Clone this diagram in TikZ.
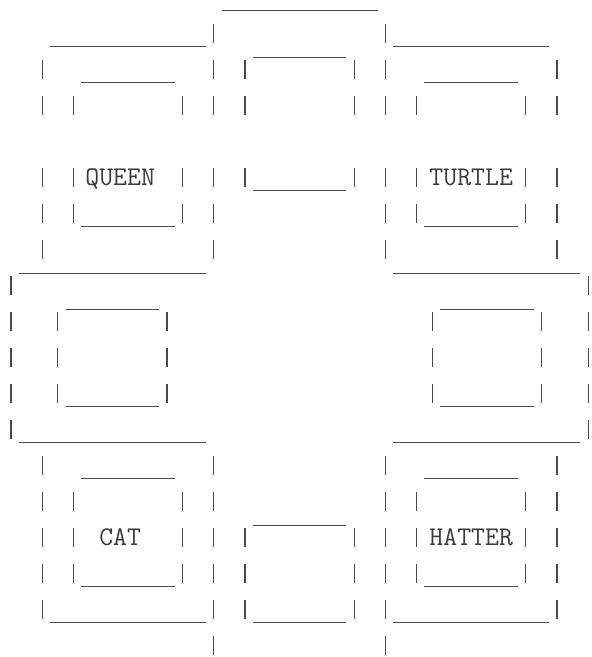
\documentclass[tikz,border=0pt]{standalone}
\definecolor{inkline}{HTML}{4A4A4A}
\definecolor{inktext}{HTML}{3A3A3A}
\tikzset{
  ln/.style={draw=inkline, line width=1.3pt, line cap=butt},
  lbl/.style={text=inktext, inner sep=0pt, anchor=base,
              font=\ttfamily\fontsize{27}{27}\selectfont}
}
% column k: left edge 3.2+15.6k, centre 11+15.6k ; row n: bar top 36n-48
\newcommand\asciiV[2]{\draw[ln] ({11+15.6*#1},{36*#2-48}) -- ++(0,19);}
\newcommand\asciiU[3]{\draw[ln] ({3.2+15.6*#2},{36*#1-25.6}) -- ({3.2+15.6*(#3+1)},{36*#1-25.6});}
\newcommand\asciiO[3]{\draw[ln] ({3.2+15.6*#2},{36*#1-50.5}) -- ({3.2+15.6*(#3+1)},{36*#1-50.5});}
\begin{document}
\begin{tikzpicture}[x=1pt,y=-1pt]
\useasboundingbox (0,0) rectangle (592,657);
% row 1
\asciiU{1}{14}{23}
% row 2
\asciiU{2}{3}{12} \asciiV{13}{2} \asciiV{24}{2} \asciiU{2}{25}{34}
% row 3
\foreach \c in {2,13,15,22,24,35} {\asciiV{\c}{3}}
\asciiU{3}{5}{10} \asciiU{3}{27}{32} \asciiO{3}{16}{21}
% row 4
\foreach \c in {2,4,11,13,15,22,24,26,33,35} {\asciiV{\c}{4}}
% row 6
\foreach \c in {2,4,11,13,15,22,24,26,33,35} {\asciiV{\c}{6}}
\asciiU{6}{16}{21}
\node[lbl] (queen) at ({3.2+15.6*7.5},{36*6-31}) {QUEEN};
\node[lbl] (turtle) at ({3.2+15.6*30},{36*6-31}) {TURTLE};
% row 7
\foreach \c in {2,4,11,13,24,26,33,35} {\asciiV{\c}{7}}
\asciiU{7}{5}{10} \asciiU{7}{27}{32}
% row 8
\foreach \c in {2,13,24,35} {\asciiV{\c}{8}}
% row 9
\foreach \c in {0,37} {\asciiV{\c}{9}}
\asciiO{9}{1}{12} \asciiO{9}{25}{36}
% rows 10-12
\foreach \r in {10,11,12} {\foreach \c in {0,3,10,27,34,37} {\asciiV{\c}{\r}}}
\asciiO{10}{4}{9} \asciiO{10}{28}{33}
\asciiU{12}{4}{9} \asciiU{12}{28}{33}
% row 13
\foreach \c in {0,37} {\asciiV{\c}{13}}
\asciiU{13}{1}{12} \asciiU{13}{25}{36}
% row 14
\foreach \c in {2,13,24,35} {\asciiV{\c}{14}}
\asciiU{14}{5}{10} \asciiU{14}{27}{32}
% row 15
\foreach \c in {2,4,11,13,24,26,33,35} {\asciiV{\c}{15}}
% row 16
\foreach \c in {2,4,11,13,15,22,24,26,33,35} {\asciiV{\c}{16}}
\asciiO{16}{16}{21}
\node[lbl] (cat) at ({3.2+15.6*7.5},{36*16-31}) {CAT};
\node[lbl] (hatter) at ({3.2+15.6*30},{36*16-31}) {HATTER};
% row 17
\foreach \c in {2,4,11,13,15,22,24,26,33,35} {\asciiV{\c}{17}}
\asciiU{17}{5}{10} \asciiU{17}{27}{32}
% row 18
\foreach \c in {2,13,15,22,24,35} {\asciiV{\c}{18}}
\asciiU{18}{3}{12} \asciiU{18}{16}{21} \asciiU{18}{25}{34}
% row 19
\foreach \c in {13,24} {\asciiV{\c}{19}}
\end{tikzpicture}
\end{document}
